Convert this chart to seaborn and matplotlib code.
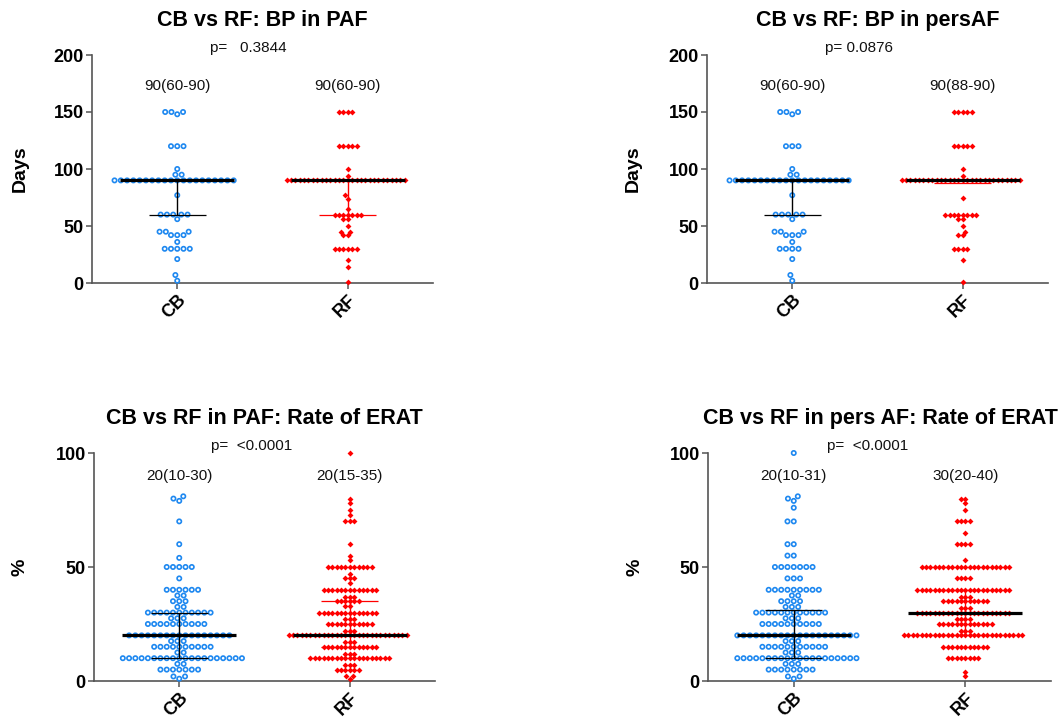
import numpy as np
import pandas as pd
import matplotlib
matplotlib.use("Agg")
import matplotlib.pyplot as plt
import seaborn as sns

# ---------------- data ----------------
GROUPS = ["CB", "RF"]

# Panel 1: BP in PAF (days)
BP_PAF_CB_VALUES = [150, 148, 120, 100, 95, 90, 77, 60, 56, 45, 42, 36, 30, 21, 7, 2]
BP_PAF_CB_COUNTS = [3, 1, 3, 1, 2, 20, 1, 5, 1, 3, 3, 1, 5, 1, 1, 1]
BP_PAF_RF_VALUES = [150, 120, 100, 94, 90, 77, 74, 65, 60, 56, 50, 45, 42, 30, 20, 14, 1]
BP_PAF_RF_COUNTS = [4, 5, 1, 1, 28, 1, 1, 1, 7, 2, 1, 2, 2, 6, 1, 1, 1]
BP_PAF_MEDIAN = [90, 90]
BP_PAF_Q1 = [60, 60]
BP_PAF_Q3 = [90, 90]
BP_PAF_P = "p=   0.3844"

# Panel 2: BP in persAF (days)
BP_PERS_CB_VALUES = [150, 148, 120, 100, 95, 90, 77, 60, 56, 45, 42, 36, 30, 21, 7, 2]
BP_PERS_CB_COUNTS = [3, 1, 3, 1, 2, 20, 1, 5, 1, 3, 3, 1, 4, 1, 1, 1]
BP_PERS_RF_VALUES = [150, 120, 100, 94, 90, 75, 60, 56, 50, 45, 42, 30, 20, 1]
BP_PERS_RF_COUNTS = [5, 5, 1, 1, 28, 1, 8, 2, 1, 1, 2, 4, 1, 1]
BP_PERS_MEDIAN = [90, 90]
BP_PERS_Q1 = [60, 88]
BP_PERS_Q3 = [90, 90]
BP_PERS_P = "p= 0.0876"

# Panel 3: rate of ERAT in PAF (%)
ERAT_PAF_CB_VALUES = [81, 80, 79, 70, 60, 54, 50, 45, 40, 37.5, 35, 32.5, 30, 27.5, 25, 20, 17.5, 15, 12.5, 10, 7.5, 5, 2, 1]
ERAT_PAF_CB_COUNTS = [1, 1, 1, 1, 1, 1, 5, 1, 6, 2, 3, 2, 11, 3, 10, 17, 3, 10, 2, 20, 2, 7, 2, 1]
ERAT_PAF_RF_VALUES = [100, 80, 78, 75, 73, 70, 60, 55, 53, 50, 47, 45, 43, 40, 37, 35, 33, 30, 27, 25, 22, 20, 17, 15, 12, 10, 7, 5, 2, 1]
ERAT_PAF_RF_COUNTS = [1, 1, 1, 1, 1, 3, 1, 1, 1, 11, 1, 3, 1, 13, 3, 6, 2, 14, 3, 11, 3, 28, 3, 13, 3, 19, 3, 6, 2, 1]
ERAT_PAF_MEDIAN = [20, 20]
ERAT_PAF_Q1 = [10, 15]
ERAT_PAF_Q3 = [30, 35]
ERAT_PAF_P = "p=  <0.0001"

# Panel 4: rate of ERAT in pers AF (%)
ERAT_PERS_CB_VALUES = [100, 81, 80, 79, 76, 70, 60, 55, 50, 45, 40, 37.5, 35, 32.5, 30, 27.5, 25, 20, 17.5, 15, 12.5, 10, 7.5, 5, 2, 1]
ERAT_PERS_CB_COUNTS = [1, 1, 1, 1, 1, 2, 2, 2, 7, 3, 9, 2, 4, 3, 12, 3, 10, 20, 3, 11, 3, 20, 3, 8, 2, 1]
ERAT_PERS_RF_VALUES = [80, 78, 75, 70, 65, 60, 53, 50, 45, 40, 37, 35, 32, 30, 27, 25, 22, 20, 15, 10, 4, 2]
ERAT_PERS_RF_COUNTS = [2, 1, 1, 4, 1, 4, 1, 21, 4, 22, 3, 11, 3, 22, 4, 13, 3, 28, 11, 8, 1, 1]
ERAT_PERS_MEDIAN = [20, 30]
ERAT_PERS_Q1 = [10, 20]
ERAT_PERS_Q3 = [31, 40]
ERAT_PERS_P = "p=  <0.0001"

BLUE = "#1E88F0"
RED = "#FF0000"
SPINE = "#555555"

# ---------------- style ----------------
sns.set_style("ticks")
plt.rcParams["font.family"] = ["Liberation Sans", "DejaVu Sans"]
plt.rcParams["text.color"] = "black"
plt.rcParams["xtick.labelcolor"] = "black"
plt.rcParams["ytick.labelcolor"] = "black"
plt.rcParams["axes.labelcolor"] = "black"

W, H = 1064, 720
fig = plt.figure(figsize=(W / 100, H / 100), dpi=100)


def px_axes(left, top, width, height):
    return fig.add_axes([left / W, (H - top - height) / H, width / W, height / H])


def draw_panel(ax, cb_vals, cb_counts, rf_vals, rf_counts, med, q1, q3,
               title, ptext, ylabel, ymax, yticks, title_x, p_x, label_y, ylab_x):
    cb = pd.DataFrame({"group": "CB", "value": np.repeat(cb_vals, cb_counts)})
    rf = pd.DataFrame({"group": "RF", "value": np.repeat(rf_vals, rf_counts)})
    sns.swarmplot(data=cb, x="group", y="value", order=GROUPS, ax=ax,
                  marker="o", size=3.1, color=BLUE, facecolor="none",
                  edgecolor=BLUE, linewidth=1.2, zorder=3)
    sns.swarmplot(data=rf, x="group", y="value", order=GROUPS, ax=ax,
                  marker="D", size=3.0, color=RED, edgecolor=RED,
                  linewidth=0, zorder=3)
    # drop empty placeholder collections, let real points overlap the axes
    for coll in list(ax.collections):
        if len(coll.get_offsets()) == 0:
            coll.remove()
        else:
            coll.set_clip_on(False)

    ax.set_xlim(-0.5, 1.5)
    ax.set_ylim(0, ymax)
    ax.set_yticks(yticks)

    # median + interquartile range
    whisk_colors = ["black", RED]
    for i in range(len(GROUPS)):
        ax.vlines(i, q1[i], q3[i], color=whisk_colors[i], lw=1.0, zorder=4)
        ax.hlines([q1[i], q3[i]], i - 0.167, i + 0.167, color=whisk_colors[i], lw=0.9, zorder=4)
        ax.hlines(med[i], i - 0.333, i + 0.333, color="black", lw=2.3, zorder=5)
        ax.text(i, label_y, f"{med[i]}({q1[i]}-{q3[i]})", ha="center", va="center",
                fontsize=11, color="#111111")

    ax.text(title_x, 1.153, title, transform=ax.transAxes, ha="center", va="center",
            fontsize=15.5, fontweight="bold", color="black")
    ax.text(p_x, 1.03, ptext, transform=ax.transAxes, ha="center", va="center",
            fontsize=11, color="#111111")

    ax.set_xlabel("")
    ax.set_ylabel(ylabel, fontsize=14, fontweight="bold", va="center", color="black")
    ax.yaxis.set_label_coords(ylab_x, 0.5)
    ax.set_xticks(range(len(GROUPS)))
    ax.set_xticklabels(GROUPS, rotation=45, ha="right", rotation_mode="anchor",
                       fontsize=13, fontweight="bold", color="black")
    for lab in ax.get_yticklabels():
        lab.set_fontweight("bold")
        lab.set_fontsize(13)
        lab.set_color("black")
    for side in ["top", "right"]:
        ax.spines[side].set_visible(False)
    for side in ["left", "bottom"]:
        ax.spines[side].set_color(SPINE)
        ax.spines[side].set_linewidth(1.2)
    ax.tick_params(axis="both", direction="out", length=4, width=1.1, color=SPINE, pad=2)


ax1 = px_axes(92, 55, 341, 228)
draw_panel(ax1, BP_PAF_CB_VALUES, BP_PAF_CB_COUNTS, BP_PAF_RF_VALUES, BP_PAF_RF_COUNTS,
           BP_PAF_MEDIAN, BP_PAF_Q1, BP_PAF_Q3, "CB vs RF: BP in PAF", BP_PAF_P,
           "Days", 200, [0, 50, 100, 150, 200], 0.5, 0.457, 173, -0.211)

ax2 = px_axes(707, 55, 341, 228)
draw_panel(ax2, BP_PERS_CB_VALUES, BP_PERS_CB_COUNTS, BP_PERS_RF_VALUES, BP_PERS_RF_COUNTS,
           BP_PERS_MEDIAN, BP_PERS_Q1, BP_PERS_Q3, "CB vs RF: BP in persAF", BP_PERS_P,
           "Days", 200, [0, 50, 100, 150, 200], 0.5, 0.446, 173, -0.217)

ax3 = px_axes(94, 453, 341, 228)
draw_panel(ax3, ERAT_PAF_CB_VALUES, ERAT_PAF_CB_COUNTS, ERAT_PAF_RF_VALUES, ERAT_PAF_RF_COUNTS,
           ERAT_PAF_MEDIAN, ERAT_PAF_Q1, ERAT_PAF_Q3, "CB vs RF in PAF: Rate of ERAT", ERAT_PAF_P,
           "%", 100, [0, 50, 100], 0.501, 0.462, 90, -0.217)

ax4 = px_axes(708, 453, 343, 228)
draw_panel(ax4, ERAT_PERS_CB_VALUES, ERAT_PERS_CB_COUNTS, ERAT_PERS_RF_VALUES, ERAT_PERS_RF_COUNTS,
           ERAT_PERS_MEDIAN, ERAT_PERS_Q1, ERAT_PERS_Q3, "CB vs RF in pers AF: Rate of ERAT", ERAT_PERS_P,
           "%", 100, [0, 50, 100], 0.504, 0.466, 90, -0.214)

fig.savefig("out.png", dpi=100)
